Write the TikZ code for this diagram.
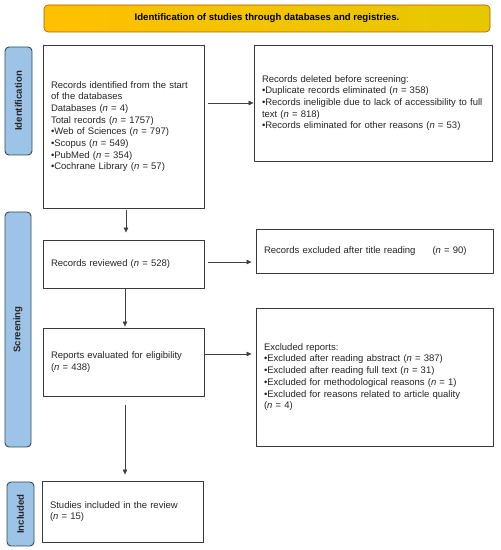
\documentclass[tikz,border=0pt]{standalone}
\usepackage{fontspec}
\setmainfont{Liberation Sans}
\usetikzlibrary{arrows.meta}
\definecolor{titleorange}{HTML}{FFC000}
\definecolor{titleyellow}{HTML}{E6C800}
\definecolor{sideblue}{HTML}{9DC3E6}
\definecolor{sideedge}{HTML}{2E4D5C}
\definecolor{boxedge}{HTML}{3A3A3A}
\tikzset{
  stagebox/.style={draw=boxedge, line width=0.9pt, fill=white, inner xsep=8pt, align=left,
    font=\fontsize{9.5}{11.7}\selectfont, text=black!85},
  sidebox/.style={draw=sideedge, line width=0.9pt, fill=sideblue, rounded corners=4pt,
    font=\fontsize{9.6}{11}\bfseries, text=black!85},
  flow/.style={draw=black!75, line width=0.6pt, -{Triangle[length=5pt,width=4.5pt]}}
}
\begin{document}
\begin{tikzpicture}[x=1pt,y=1pt]
    \useasboundingbox (0,0) rectangle (501,550);
    % header
    \node (head) [draw=orange!70!black, line width=0.6pt, rounded corners=4pt, left color=titleorange, right color=titleyellow,
      minimum width=446pt, minimum height=27pt, font=\fontsize{9.6}{11}\bfseries] at (267,531.5)
      {Identification of studies through databases and registries.};
    % stages
    \node (ident) [sidebox, minimum width=27pt, minimum height=108pt] at (18.5,449) {};
    \node [sidebox, draw=none, fill=none, rotate=90] at (ident) {Identification};
    \node (screen) [sidebox, minimum width=26pt, minimum height=235pt] at (18,220.5) {};
    \node [sidebox, draw=none, fill=none, rotate=90] at (screen) {Screening};
    \node (incl) [sidebox, minimum width=27pt, minimum height=64pt] at (20.5,36) {};
    \node [sidebox, draw=none, fill=none, rotate=90] at (incl) {Included};
    % boxes
    \node (found) [stagebox, text width=145pt, minimum height=163pt] at (123.5,423.5)
      {Records identified from the start\\
       of the databases\\
       Databases (\textit{n} = 4)\\
       Total records (\textit{n} = 1757)\\
       \textbullet Web of Sciences (\textit{n} = 797)\\
       \textbullet Scopus (\textit{n} = 549)\\
       \textbullet PubMed (\textit{n} = 354)\\
       \textbullet Cochrane Library (\textit{n} = 57)};
    \node (deleted) [stagebox, text width=222pt, minimum height=116pt] at (373,447)
      {Records deleted before screening:\\
       \textbullet Duplicate records eliminated (\textit{n} = 358)\\
       \textbullet Records ineligible due to lack of accessibility to full\\
       text (\textit{n} = 818)\\
       \textbullet Records eliminated for other reasons (\textit{n} = 53)};
    \node (reviewed) [stagebox, text width=145pt, minimum height=48pt] at (123.5,286)
      {Records reviewed (\textit{n} = 528)};
    \node (title) [stagebox, text width=221pt, minimum height=44pt] at (374.5,299)
      {Records excluded after title reading\hspace{17pt}(\textit{n} = 90)};
    \node (eligible) [stagebox, text width=145pt, minimum height=68pt] at (123.5,188)
      {Reports evaluated for eligibility\\
       (\textit{n} = 438)};
    \node (reports) [stagebox, text width=221pt, minimum height=138pt] at (374.5,173)
      {Excluded reports:\\
       \textbullet Excluded after reading abstract (\textit{n} = 387)\\
       \textbullet Excluded after reading full text (\textit{n} = 31)\\
       \textbullet Excluded for methodological reasons (\textit{n} = 1)\\
       \textbullet Excluded for reasons related to article quality\\
       (\textit{n} = 4)};
    \node (studies) [stagebox, text width=145pt, minimum height=61pt] at (122.5,38.5)
      {Studies included in the review\\
       (\textit{n} = 15)};
    % arrows
    \draw [flow, shorten <=4pt] (found.east |- deleted.west) -- (deleted.west);
    \draw [flow, shorten <=2pt, shorten >=7pt] ([xshift=2.5pt]found.south) -- ([xshift=2.5pt]found.south |- reviewed.north);
    \draw [flow, shorten <=4pt, shorten >=4pt] ([yshift=2pt]reviewed.east) -- ([yshift=2pt]title.west |- reviewed.east);
    \draw [flow, shorten >=1pt] ([xshift=1.5pt]reviewed.south) -- ([xshift=1.5pt]reviewed.south |- eligible.north);
    \draw [flow, shorten >=4pt] ([yshift=8pt]eligible.east) -- ([yshift=8pt]reports.west |- eligible.east);
    \draw [flow, shorten <=9pt, shorten >=6pt] ([xshift=1.5pt]eligible.south) -- ([xshift=1.5pt]eligible.south |- studies.north);
\end{tikzpicture}
\end{document}
